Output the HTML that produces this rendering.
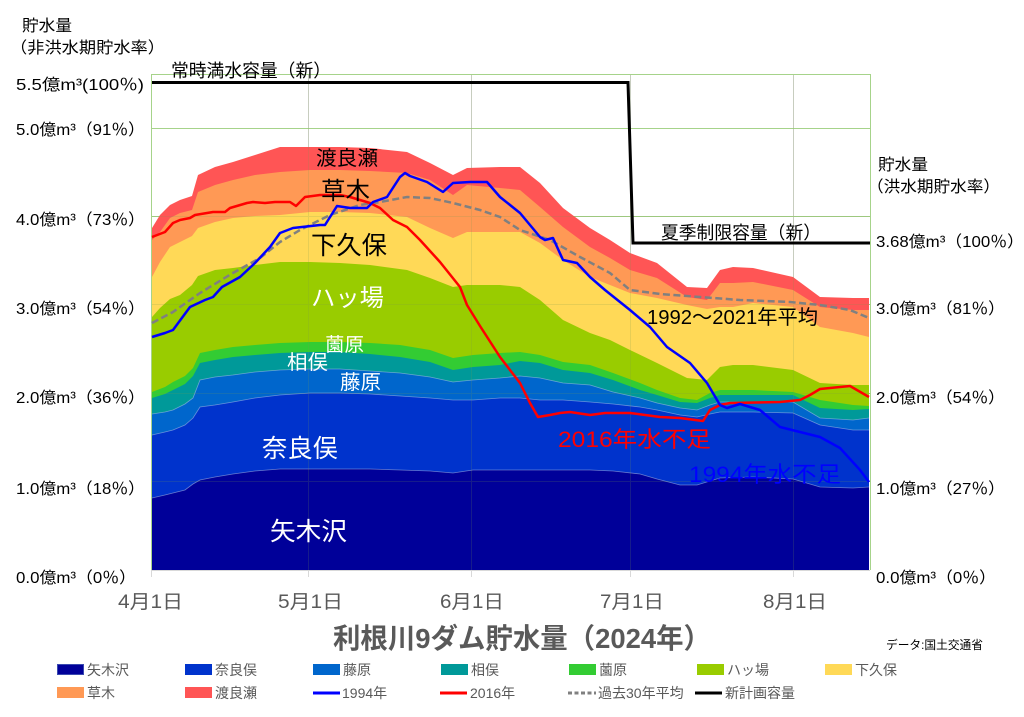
<!DOCTYPE html>
<html><head><meta charset="utf-8"><style>
html,body{margin:0;padding:0;background:#fff;}
svg{display:block;}
text{font-family:"Liberation Sans","Noto Sans CJK JP",sans-serif;}
</style></head><body>
<svg width="1024" height="717" viewBox="0 0 1024 717" xmlns="http://www.w3.org/2000/svg">
<rect x="0" y="0" width="1024" height="717" fill="#fff"/>
<!-- gridlines under -->
<g stroke="#d9d9d9" stroke-width="1">
<line x1="308.5" y1="74" x2="308.5" y2="577"/>
<line x1="471.5" y1="74" x2="471.5" y2="577"/>
<line x1="630.5" y1="74" x2="630.5" y2="577"/>
<line x1="793.5" y1="74" x2="793.5" y2="577"/>
<line x1="151.5" y1="570" x2="151.5" y2="577"/>
<line x1="151" y1="570.5" x2="870" y2="570.5"/>
</g>
<g stroke="#a6d38a" stroke-width="1">
<line x1="151" y1="128.5" x2="870" y2="128.5"/>
<line x1="151" y1="216.5" x2="870" y2="216.5"/>
<line x1="151" y1="304.5" x2="870" y2="304.5"/>
<line x1="151" y1="393.5" x2="870" y2="393.5"/>
<line x1="151" y1="481.5" x2="870" y2="481.5"/>
</g>
<!-- stacked areas (painted top to bottom) -->
<polygon fill="#ff5555" points="152,570 152,228 160,215 170,205 180,200 192,196 198,175 215,167 233,162 255,155 280,147 310,147 340,147 370,148 407,152 430,163 453,175 467,168 500,167 520,167 540,183 563,208 590,228 610,240 630,253 657,263 687,287 707,288 720,270 733,267 753,268 793,277 820,297 853,298 869,298 869,570"/>
<polygon fill="#ff9955" points="152,570 152,240 160,232 170,218 180,213 192,210 198,192 215,185 233,180 255,175 280,172 310,170 340,170 370,171 407,173 430,180 453,195 467,185 500,188 520,190 540,207 563,227 590,247 610,258 630,270 657,278 687,297 707,300 720,283 733,283 753,282 793,290 820,307 853,310 869,310 869,570"/>
<polygon fill="#ffd957" points="152,570 152,277 160,262 170,247 180,242 192,236 198,228 215,222 233,218 255,216 280,215 310,212 340,212 370,213 407,217 430,228 453,238 467,232 500,232 520,232 540,243 563,260 590,277 610,285 630,293 657,298 687,305 707,309 720,307 733,307 753,303 793,307 820,327 853,333 869,337 869,570"/>
<polygon fill="#99cc00" points="152,570 152,317 160,308 170,299 180,295 192,285 198,276 215,270 233,268 255,265 280,262 310,262 340,263 370,265 407,270 430,278 453,287 467,285 500,285 520,287 540,300 563,320 590,333 610,340 630,350 657,363 687,378 707,380 720,367 733,365 753,365 793,370 820,383 853,385 869,385 869,570"/>
<polygon fill="#33cc33" points="152,570 152,392 165,387 173,382 185,376 193,368 200,353 215,350 233,347 255,345 280,343 310,342 340,342 370,343 400,345 430,350 453,358 473,355 500,353 520,352 540,355 563,362 590,365 613,373 640,383 657,390 680,398 697,400 710,393 720,390 753,390 793,392 820,400 853,405 869,406 869,570"/>
<polygon fill="#009999" points="152,570 152,398 165,394 173,390 185,384 193,376 200,363 215,360 233,357 255,355 280,353 310,352 340,352 370,354 400,357 430,362 453,370 473,367 500,365 520,361 540,363 563,370 590,373 613,380 640,390 657,395 680,402 697,403 710,398 720,395 753,395 793,395 820,408 853,410 869,409 869,570"/>
<polygon fill="#0066cc" points="152,570 152,414 165,412 173,410 185,404 193,398 200,380 215,377 233,375 255,372 280,370 310,369 340,369 370,371 400,373 430,377 453,382 473,380 500,378 520,376 540,378 563,383 590,385 613,392 640,398 657,403 680,408 697,410 710,405 720,402 753,402 793,402 820,418 853,420 869,418 869,570"/>
<polygon fill="#0033cc" points="152,570 152,435 165,432 173,430 185,425 193,418 200,407 215,405 233,402 255,398 280,395 310,393 340,393 370,394 400,396 430,398 453,400 473,400 500,398 520,398 540,400 563,400 590,402 613,404 640,407 657,410 680,415 697,417 710,414 720,412 753,412 793,413 820,425 853,430 869,430 869,570"/>
<polygon fill="#000099" points="152,570 152,498 165,495 173,493 185,490 193,484 200,480 215,477 233,474 255,471 280,469 310,469 340,469 370,469 400,470 430,471 453,473 473,470 500,470 520,470 540,470 563,470 590,470 613,471 640,474 657,479 680,485 697,485 710,481 720,478 753,477 793,479 820,487 853,488 869,487 869,570"/>
<!-- faint separators -->
<g fill="none" stroke="#b8c8e8" stroke-width="0.8" opacity="0.55">
<polyline points="152,498 165,495 173,493 185,490 193,484 200,480 215,477 233,474 255,471 280,469 310,469 340,469 370,469 400,470 430,471 453,473 473,470 500,470 520,470 540,470 563,470 590,470 613,471 640,474 657,479 680,485 697,485 710,481 720,478 753,477 793,479 820,487 853,488 869,487"/>
<polyline points="152,435 165,432 173,430 185,425 193,418 200,407 215,405 233,402 255,398 280,395 310,393 340,393 370,394 400,396 430,398 453,400 473,400 500,398 520,398 540,400 563,400 590,402 613,404 640,407 657,410 680,415 697,417 710,414 720,412 753,412 793,413 820,425 853,430 869,430"/>
<polyline points="152,414 165,412 173,410 185,404 193,398 200,380 215,377 233,375 255,372 280,370 310,369 340,369 370,371 400,373 430,377 453,382 473,380 500,378 520,376 540,378 563,383 590,385 613,392 640,398 657,403 680,408 697,410 710,405 720,402 753,402 793,402 820,418 853,420 869,418"/>
</g>
<!-- gridlines overlay (faint, as areas are slightly see-through) -->
<g stroke="#7a9a50" stroke-width="1" opacity="0.18">
<line x1="151" y1="216.5" x2="870" y2="216.5"/>
<line x1="151" y1="304.5" x2="870" y2="304.5"/>
<line x1="151" y1="393.5" x2="870" y2="393.5"/>
<line x1="151" y1="481.5" x2="870" y2="481.5"/>
<line x1="308.5" y1="74" x2="308.5" y2="570"/>
<line x1="471.5" y1="74" x2="471.5" y2="570"/>
<line x1="630.5" y1="74" x2="630.5" y2="570"/>
<line x1="793.5" y1="74" x2="793.5" y2="570"/>
</g>
<!-- plot border -->
<polyline fill="none" stroke="#a6d38a" stroke-width="1" points="151.5,570 151.5,74.5 870.5,74.5 870.5,570"/>
<!-- lines -->
<polyline fill="none" stroke="#808080" stroke-width="2.5" stroke-dasharray="7 3.5" points="152,323 173,312 200,293 233,273 260,258 280,242 300,230 330,215 360,205 380,202 407,197 430,198 453,203 480,210 500,217 520,230 550,240 580,257 610,273 630,290 660,294 700,297 740,300 790,302 820,305 850,310 869,318"/>
<polyline fill="none" stroke="#ff0000" stroke-width="2.5" stroke-linejoin="round" points="152,237 165,232 173,223 180,220 190,218 195,215 213,212 225,212 230,208 247,203 253,202 265,203 275,202 290,202 296,206 305,197 320,195 340,195 350,197 370,203 380,208 393,220 407,227 420,240 440,262 460,287 467,305 480,326 500,357 520,383 530,403 538,417 550,415 560,413 570,412 590,415 605,413 630,413 660,417 680,418 703,421 710,410 720,405 730,403 780,402 800,400 810,395 820,389 850,386 869,397"/>
<polyline fill="none" stroke="#0000ff" stroke-width="2.5" stroke-linejoin="round" points="152,337 165,333 173,330 190,307 205,300 213,297 222,287 240,277 255,263 270,247 280,233 293,228 320,225 325,225 337,206 350,208 367,208 373,202 387,197 400,177 405,173 410,176 427,182 443,192 453,183 470,182 487,182 500,197 520,213 540,237 545,240 553,238 563,260 577,263 590,277 605,290 630,310 650,327 667,347 690,363 707,383 720,405 727,408 740,404 760,410 780,427 800,432 820,437 840,448 860,470 869,482"/>
<polyline fill="none" stroke="#000" stroke-width="3" points="152,82.5 628,82.5 633,243 870,243"/>
<!-- series labels -->
<text x="316" y="165" font-size="20" textLength="62" lengthAdjust="spacingAndGlyphs" fill="#000">渡良瀬</text>
<text x="321" y="199" font-size="24" textLength="49" lengthAdjust="spacingAndGlyphs" fill="#000">草木</text>
<text x="311" y="254" font-size="25" textLength="76" lengthAdjust="spacingAndGlyphs" fill="#000">下久保</text>
<text x="311" y="306" font-size="24" textLength="73" lengthAdjust="spacingAndGlyphs" fill="#fff">ハッ場</text>
<text x="325" y="351" font-size="19" textLength="39" lengthAdjust="spacingAndGlyphs" fill="#fff">薗原</text>
<text x="287" y="369" font-size="20" textLength="41" lengthAdjust="spacingAndGlyphs" fill="#fff">相俣</text>
<text x="340" y="389" font-size="20" textLength="41" lengthAdjust="spacingAndGlyphs" fill="#fff">藤原</text>
<text x="262" y="457" font-size="25" textLength="76" lengthAdjust="spacingAndGlyphs" fill="#fff">奈良俣</text>
<text x="270" y="540" font-size="25" textLength="77" lengthAdjust="spacingAndGlyphs" fill="#fff">矢木沢</text>
<text x="558" y="447" font-size="22" textLength="153" lengthAdjust="spacingAndGlyphs" fill="#ff0000">2016年水不足</text>
<text x="689" y="482" font-size="22" textLength="152" lengthAdjust="spacingAndGlyphs" fill="#0000ff">1994年水不足</text>
<text x="171" y="77" font-size="18" textLength="160" lengthAdjust="spacingAndGlyphs" fill="#000">常時満水容量（新）</text>
<text x="661" y="239" font-size="18" textLength="160" lengthAdjust="spacingAndGlyphs" fill="#000">夏季制限容量（新）</text>
<text x="647" y="324" font-size="20" textLength="171" lengthAdjust="spacingAndGlyphs" fill="#000">1992～2021年平均</text>
<!-- left axis -->
<text x="22" y="31" font-size="16" textLength="50" lengthAdjust="spacingAndGlyphs" fill="#000">貯水量</text>
<text x="10" y="53" font-size="16" textLength="155" lengthAdjust="spacingAndGlyphs" fill="#000">（非洪水期貯水率）</text>
<g font-size="16" fill="#000">
<text x="16" y="90" textLength="128" lengthAdjust="spacingAndGlyphs">5.5億m³(100％)</text>
<text x="16" y="135" textLength="129" lengthAdjust="spacingAndGlyphs">5.0億m³（91％）</text>
<text x="16" y="225" textLength="129" lengthAdjust="spacingAndGlyphs">4.0億m³（73％）</text>
<text x="16" y="314" textLength="129" lengthAdjust="spacingAndGlyphs">3.0億m³（54％）</text>
<text x="16" y="403" textLength="129" lengthAdjust="spacingAndGlyphs">2.0億m³（36％）</text>
<text x="16" y="494" textLength="129" lengthAdjust="spacingAndGlyphs">1.0億m³（18％）</text>
<text x="16" y="583" textLength="120" lengthAdjust="spacingAndGlyphs">0.0億m³（0％）</text>
</g>
<!-- right axis -->
<text x="878" y="170" font-size="16" textLength="50" lengthAdjust="spacingAndGlyphs" fill="#000">貯水量</text>
<text x="867" y="192" font-size="16" textLength="133" lengthAdjust="spacingAndGlyphs" fill="#000">（洪水期貯水率）</text>
<g font-size="16" fill="#000">
<text x="876" y="247" textLength="148" lengthAdjust="spacingAndGlyphs">3.68億m³（100％）</text>
<text x="876" y="314" textLength="129" lengthAdjust="spacingAndGlyphs">3.0億m³（81％）</text>
<text x="876" y="403" textLength="129" lengthAdjust="spacingAndGlyphs">2.0億m³（54％）</text>
<text x="876" y="494" textLength="129" lengthAdjust="spacingAndGlyphs">1.0億m³（27％）</text>
<text x="876" y="583" textLength="120" lengthAdjust="spacingAndGlyphs">0.0億m³（0％）</text>
</g>
<!-- x axis labels -->
<g font-size="19" fill="#595959">
<text x="118" y="608" textLength="65" lengthAdjust="spacingAndGlyphs">4月1日</text>
<text x="278" y="608" textLength="65" lengthAdjust="spacingAndGlyphs">5月1日</text>
<text x="440" y="608" textLength="64" lengthAdjust="spacingAndGlyphs">6月1日</text>
<text x="600" y="608" textLength="64" lengthAdjust="spacingAndGlyphs">7月1日</text>
<text x="763" y="608" textLength="64" lengthAdjust="spacingAndGlyphs">8月1日</text>
</g>
<!-- title -->
<text x="333" y="648" font-size="28" font-weight="bold" textLength="378" lengthAdjust="spacingAndGlyphs" fill="#595959">利根川9ダム貯水量（2024年）</text>
<text x="886" y="649" font-size="12" textLength="97" lengthAdjust="spacingAndGlyphs" fill="#000">データ:国土交通省</text>
<!-- legend -->
<g font-size="14" fill="#595959">
<rect x="57.5" y="664.5" width="26" height="10" fill="#000099" stroke="#3a4ab0" stroke-width="1"/>
<text x="87" y="675">矢木沢</text>
<rect x="185" y="664" width="27" height="11" fill="#0033cc"/>
<text x="215" y="675">奈良俣</text>
<rect x="313" y="664" width="27" height="11" fill="#0066cc"/>
<text x="343" y="675">藤原</text>
<rect x="441" y="664" width="27" height="11" fill="#009999"/>
<text x="471" y="675">相俣</text>
<rect x="569" y="664" width="27" height="11" fill="#33cc33"/>
<text x="599" y="675">薗原</text>
<rect x="697" y="664" width="27" height="11" fill="#99cc00"/>
<text x="727" y="675">ハッ場</text>
<rect x="825" y="664" width="27" height="11" fill="#ffd957"/>
<text x="855" y="675">下久保</text>
<rect x="57" y="687" width="27" height="11" fill="#ff9955"/>
<text x="87" y="698">草木</text>
<rect x="185" y="687" width="27" height="11" fill="#ff5555"/>
<text x="215" y="698">渡良瀬</text>
<line x1="313" y1="693" x2="340" y2="693" stroke="#0000ff" stroke-width="3"/>
<text x="342" y="698">1994年</text>
<line x1="440" y1="693" x2="467" y2="693" stroke="#ff0000" stroke-width="3"/>
<text x="470" y="698">2016年</text>
<line x1="568" y1="693" x2="596" y2="693" stroke="#808080" stroke-width="3" stroke-dasharray="4 2.5"/>
<text x="598" y="698">過去30年平均</text>
<line x1="695" y1="693" x2="722" y2="693" stroke="#000" stroke-width="3"/>
<text x="725" y="698">新計画容量</text>
</g>
</svg>
</body></html>
